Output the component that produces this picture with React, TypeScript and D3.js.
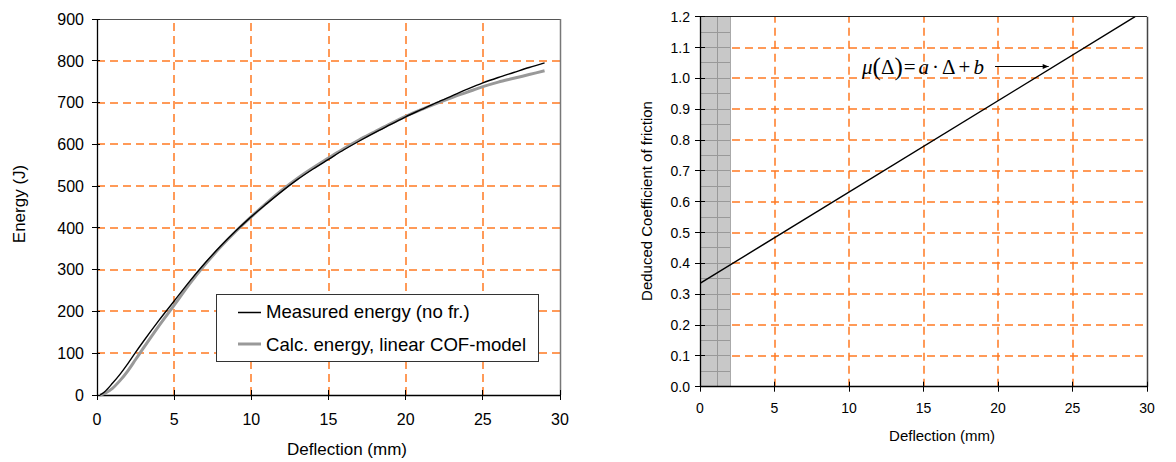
import React from "react";
import * as d3 from "d3";

// ---------- Data ----------
const deflection = [0.2, 0.5, 1, 1.5, 2, 2.5, 3, 4, 5, 6, 7, 8, 9, 10, 11, 12, 13, 14, 15, 16, 17, 18, 19, 20, 21, 22, 23, 24, 25, 26, 27, 28, 29];
const measuredEnergy = [0, 8, 28, 50, 75, 102, 128, 178, 225, 272, 316, 356, 393, 427, 458, 488, 516, 541, 564, 587, 608, 628, 647, 666, 683, 700, 716, 732, 747, 760, 772, 784, 795];
const calcEnergy = [0, 4, 16, 35, 58, 85, 112, 165, 215, 266, 312, 354, 392, 427, 460, 491, 519, 544, 567, 590, 611, 630, 649, 667, 683, 698, 712, 725, 738, 749, 758, 767, 776];

const cofDeflection = [0, 29.2];
const cofValues = [0.335, 1.2];

const energyTicks = [0, 100, 200, 300, 400, 500, 600, 700, 800, 900];
const deflTicks = [0, 5, 10, 15, 20, 25, 30];
const cofTicks = [0, 0.1, 0.2, 0.3, 0.4, 0.5, 0.6, 0.7, 0.8, 0.9, 1.0, 1.1, 1.2];

const shadedRange = [0, 2.08];
const shadedGridX = [1.2];
const shadedGridY = [0.05, 0.1, 0.15, 0.2, 0.25, 0.3, 0.35, 0.4, 0.45, 0.5, 0.55, 0.6, 0.65, 0.7, 0.75, 0.8, 0.85, 0.9, 0.95, 1.0, 1.05, 1.1, 1.15];

const legendLabels = ["Measured energy (no fr.)", "Calc. energy, linear COF-model"];
const annotationTarget = { x: 23.4, y: 1.037 };
const annotationTail = 19.8;

const GRID = "#FF7A22";
const GW = 1.5;
const DASH = "8,5";
const FONT = "'Liberation Sans', Arial, sans-serif";

const s = (v: number) => Math.round(v - 0.5) + 0.5;
const r = (v: number) => Math.round(v);

export default function App() {
  const xL = d3.scaleLinear().domain([0, 30]).range([97, 560]);
  const yL = d3.scaleLinear().domain([0, 900]).range([395, 19]);
  const xR = d3.scaleLinear().domain([0, 30]).range([700, 1147]);
  const yR = d3.scaleLinear().domain([0, 1.2]).range([386.7, 16.7]);

  const lineL = d3
    .line<number>()
    .x((_, i) => xL(deflection[i]))
    .y((d) => yL(d))
    .curve(d3.curveMonotoneX);

  const lineR = d3
    .line<number>()
    .x((_, i) => xR(cofDeflection[i]))
    .y((d) => yR(d));

  return (
    <svg
      width={1176}
      height={462}
      style={{ position: "absolute", left: 0, top: 0, background: "#fff" }}
      fontFamily={FONT}
    >
      <defs>
        <marker id="arr" viewBox="0 0 10 10" refX="10" refY="5" markerWidth="8" markerHeight="6" orient="auto" markerUnits="userSpaceOnUse">
          <path d="M0,1 L10,5 L0,9 z" fill="#000" />
        </marker>
        <clipPath id="clipR">
          <rect x={700} y={16.7} width={447} height={370} />
        </clipPath>
      </defs>

      {/* ===== LEFT CHART ===== */}
      <g>
        {deflTicks.filter((t) => t > 0 && t < 30).map((t) => (
          <line key={"lv" + t} x1={r(xL(t))} x2={r(xL(t))} y1={yL(0)} y2={yL(900)} stroke={GRID} strokeWidth={GW} strokeDasharray={DASH} />
        ))}
        {energyTicks.filter((t) => t > 0 && t < 900).map((t) => (
          <line key={"lh" + t} x1={xL(0)} x2={xL(30)} y1={r(yL(t))} y2={r(yL(t))} stroke={GRID} strokeWidth={GW} strokeDasharray={DASH} />
        ))}
        <line x1={xL(0)} x2={xL(30)} y1={s(yL(900))} y2={s(yL(900))} stroke="#555" />
        <line x1={s(xL(30))} x2={s(xL(30))} y1={yL(900)} y2={yL(0)} stroke="#777" strokeWidth={1.5} />
        <line x1={s(xL(0))} x2={s(xL(0))} y1={yL(0)} y2={yL(900)} stroke="#000" strokeWidth={1.3} />
        <line x1={xL(0)} x2={xL(30)} y1={s(yL(0))} y2={s(yL(0))} stroke="#000" strokeWidth={1.3} />
        {energyTicks.map((t) => (
          <g key={"ly" + t}>
            <line x1={xL(0) - 5} x2={xL(0) + 3} y1={s(yL(t))} y2={s(yL(t))} stroke="#000" />
            <text x={84} y={yL(t)} dy="0.36em" textAnchor="end" fontSize={16} fill="#000">{t}</text>
          </g>
        ))}
        {deflTicks.map((t) => (
          <g key={"lx" + t}>
            <line x1={s(xL(t))} x2={s(xL(t))} y1={yL(0) - 5} y2={yL(0) + 5} stroke="#000" />
            <text x={xL(t)} y={425} textAnchor="middle" fontSize={16} fill="#000">{t}</text>
          </g>
        ))}
        <text x={347} y={455} textAnchor="middle" fontSize={17} fill="#000">Deflection (mm)</text>
        <text transform="translate(25,204) rotate(-90)" textAnchor="middle" fontSize={17} fill="#000">Energy (J)</text>

        <path d={lineL(calcEnergy) || ""} fill="none" stroke="#999" strokeWidth={3} />
        <path d={lineL(measuredEnergy) || ""} fill="none" stroke="#000" strokeWidth={1.4} />

        <rect x={216.5} y={294.5} width={322} height={67} fill="#fff" stroke="#333" strokeWidth={1} />
        <line x1={238} x2={261} y1={312.5} y2={312.5} stroke="#000" strokeWidth={1.5} />
        <text x={266} y={318} fontSize={18.6} fill="#000">{legendLabels[0]}</text>
        <line x1={238} x2={261} y1={344} y2={344} stroke="#999" strokeWidth={3} />
        <text x={266} y={351} fontSize={18.6} fill="#000">{legendLabels[1]}</text>
      </g>

      {/* ===== RIGHT CHART ===== */}
      <g>
        <rect x={xR(shadedRange[0])} y={yR(1.2)} width={xR(shadedRange[1]) - xR(shadedRange[0])} height={yR(0) - yR(1.2)} fill="#C8C8C8" />
        {shadedGridX.map((v) => (
          <line key={"sx" + v} x1={s(xR(v))} x2={s(xR(v))} y1={yR(0)} y2={yR(1.2)} stroke="#999" />
        ))}
        {shadedGridY.map((v) => (
          <line key={"sy" + v} x1={xR(shadedRange[0])} x2={xR(shadedRange[1])} y1={s(yR(v))} y2={s(yR(v))} stroke="#999" />
        ))}
        <line x1={s(xR(shadedRange[1]))} x2={s(xR(shadedRange[1]))} y1={yR(0)} y2={yR(1.2)} stroke="#aaa" />

        {deflTicks.filter((t) => t > 0 && t < 30).map((t) => (
          <line key={"rv" + t} x1={r(xR(t))} x2={r(xR(t))} y1={yR(0)} y2={yR(1.2)} stroke={GRID} strokeWidth={GW} strokeDasharray={DASH} />
        ))}
        {cofTicks.filter((t) => t > 0.001 && t < 1.19).map((t) => (
          <line key={"rh" + t} x1={xR(shadedRange[1]) + 1} x2={xR(30)} y1={r(yR(t))} y2={r(yR(t))} stroke={GRID} strokeWidth={GW} strokeDasharray={DASH} />
        ))}

        <line x1={xR(0)} x2={xR(30)} y1={s(yR(1.2))} y2={s(yR(1.2))} stroke="#222" />
        <line x1={s(xR(30))} x2={s(xR(30))} y1={yR(1.2)} y2={yR(0)} stroke="#444" strokeWidth={1.5} />
        <line x1={s(xR(0))} x2={s(xR(0))} y1={yR(0)} y2={yR(1.2)} stroke="#000" strokeWidth={1.3} />
        <line x1={xR(0)} x2={xR(30)} y1={s(yR(0))} y2={s(yR(0))} stroke="#000" strokeWidth={1.3} />
        {cofTicks.map((t) => (
          <g key={"ry" + t}>
            <line x1={xR(0) - 5} x2={xR(0) + 5} y1={s(yR(t))} y2={s(yR(t))} stroke="#000" />
            <text x={690} y={yR(t)} dy="0.36em" textAnchor="end" fontSize={14} fill="#000">{t.toFixed(1)}</text>
          </g>
        ))}
        {deflTicks.map((t) => (
          <g key={"rx" + t}>
            <line x1={s(xR(t))} x2={s(xR(t))} y1={yR(0) - 5} y2={yR(0) + 5} stroke="#000" />
            <text x={xR(t)} y={413} textAnchor="middle" fontSize={14} fill="#000">{t}</text>
          </g>
        ))}
        <text x={942} y={441} textAnchor="middle" fontSize={15} fill="#000">Deflection (mm)</text>
        <text transform="translate(652,201) rotate(-90)" textAnchor="middle" fontSize={15} fill="#000">Deduced Coefficient of friction</text>

        <path d={lineR(cofValues) || ""} fill="none" stroke="#000" strokeWidth={1.4} clipPath="url(#clipR)" />

        <text x={862} y={74} fontFamily="'Liberation Serif', 'Times New Roman', serif" fontSize={21} fill="#000">
          <tspan fontStyle="italic">μ</tspan>
          <tspan fontSize={25} dy={1}>(</tspan>
          <tspan dy={-1}>Δ</tspan>
          <tspan fontSize={25} dy={1}>)</tspan>
          <tspan dy={-1} dx={1}>=</tspan>
          <tspan fontStyle="italic" dx={3}>a</tspan>
          <tspan dx={3}>·</tspan>
          <tspan dx={3}>Δ</tspan>
          <tspan dx={3}>+</tspan>
          <tspan fontStyle="italic" dx={3}>b</tspan>
        </text>
        <line
          x1={xR(annotationTail)}
          x2={xR(annotationTarget.x)}
          y1={s(yR(annotationTarget.y))}
          y2={s(yR(annotationTarget.y))}
          stroke="#000"
          strokeWidth={1}
          markerEnd="url(#arr)"
        />
      </g>
    </svg>
  );
}
